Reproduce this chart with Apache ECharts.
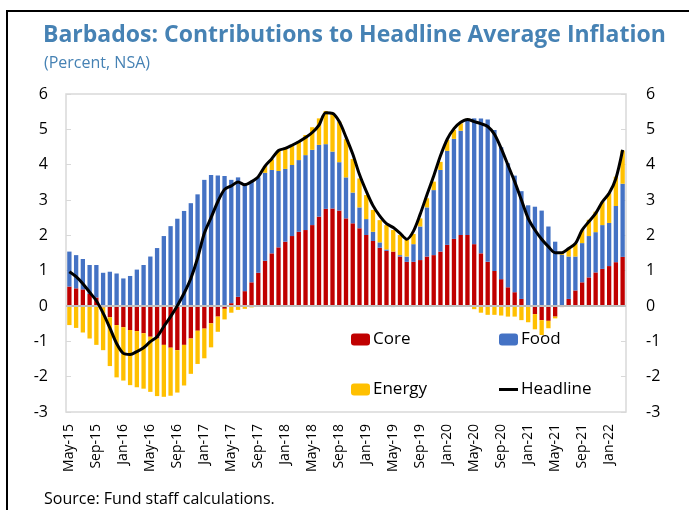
<!DOCTYPE html>
<html>
<head>
<meta charset="utf-8">
<script src="https://cdn.jsdelivr.net/npm/echarts@6/dist/echarts.min.js"></script>
<style>
  html, body { margin: 0; padding: 0; background: #fff; }
  #chart { width: 689px; height: 510px; }
</style>
</head>
<body>
<div id="chart"></div>
<script>
const months = [
  "May-15","Jun-15","Jul-15","Aug-15","Sep-15","Oct-15","Nov-15","Dec-15",
  "Jan-16","Feb-16","Mar-16","Apr-16","May-16","Jun-16","Jul-16","Aug-16","Sep-16","Oct-16","Nov-16","Dec-16",
  "Jan-17","Feb-17","Mar-17","Apr-17","May-17","Jun-17","Jul-17","Aug-17","Sep-17","Oct-17","Nov-17","Dec-17",
  "Jan-18","Feb-18","Mar-18","Apr-18","May-18","Jun-18","Jul-18","Aug-18","Sep-18","Oct-18","Nov-18","Dec-18",
  "Jan-19","Feb-19","Mar-19","Apr-19","May-19","Jun-19","Jul-19","Aug-19","Sep-19","Oct-19","Nov-19","Dec-19",
  "Jan-20","Feb-20","Mar-20","Apr-20","May-20","Jun-20","Jul-20","Aug-20","Sep-20","Oct-20","Nov-20","Dec-20",
  "Jan-21","Feb-21","Mar-21","Apr-21","May-21","Jun-21","Jul-21","Aug-21","Sep-21","Oct-21","Nov-21","Dec-21",
  "Jan-22","Feb-22","Mar-22"
];

// contributions, percentage points
const core = [
  0.55,0.50,0.47,0.34,0.24,-0.04,-0.32,-0.54,-0.60,-0.68,
  -0.71,-0.77,-0.87,-0.92,-1.10,-1.18,-1.25,-1.10,-0.92,-0.70,
  -0.64,-0.49,-0.30,-0.08,0.08,0.26,0.42,0.67,0.94,1.28,
  1.49,1.66,1.82,1.98,2.10,2.15,2.29,2.53,2.75,2.76,
  2.70,2.48,2.34,2.20,2.01,1.84,1.65,1.56,1.54,1.40,
  1.25,1.25,1.30,1.40,1.44,1.54,1.73,1.90,2.01,2.01,
  1.75,1.49,1.25,0.99,0.76,0.53,0.39,0.20,0.02,-0.23,
  -0.40,-0.42,-0.30,-0.03,0.20,0.44,0.67,0.81,0.95,1.05,
  1.13,1.24,1.39
];
const food = [
  0.99,0.94,0.86,0.82,0.92,0.94,0.97,0.92,0.78,0.85,
  1.03,1.16,1.40,1.64,1.98,2.26,2.47,2.69,2.91,3.16,
  3.57,3.71,3.69,3.68,3.49,3.38,3.05,2.85,2.70,2.49,
  2.36,2.16,2.06,2.01,2.03,2.12,2.13,2.03,1.83,1.61,
  1.37,1.16,0.87,0.59,0.45,0.26,0.15,0.04,-0.03,0.04,
  0.15,0.50,0.95,1.39,1.84,2.31,2.66,2.83,2.95,3.27,
  3.56,3.82,4.03,3.99,3.73,3.51,3.30,3.05,2.83,2.81,
  2.70,2.25,1.82,1.45,1.20,0.96,1.11,1.17,1.14,1.24,
  1.22,1.59,2.07
];
const energy = [
  -0.54,-0.62,-0.75,-0.92,-1.10,-1.21,-1.38,-1.48,-1.51,-1.56,
  -1.59,-1.57,-1.56,-1.63,-1.47,-1.36,-1.20,-1.15,-1.00,-0.94,
  -0.84,-0.68,-0.43,-0.30,-0.19,-0.11,-0.08,-0.04,-0.02,0.19,
  0.30,0.58,0.58,0.56,0.54,0.57,0.64,0.75,0.94,1.10,
  1.15,1.08,0.95,0.82,0.68,0.62,0.63,0.69,0.61,0.57,
  0.47,0.29,0.23,0.26,0.24,0.23,0.31,0.25,0.21,0.02,
  -0.09,-0.19,-0.25,-0.25,-0.27,-0.30,-0.30,-0.40,-0.46,-0.43,
  -0.42,-0.21,-0.05,0.05,0.22,0.36,0.37,0.46,0.58,0.66,
  0.84,0.83,0.94
];
const headline = [
  0.97,0.83,0.63,0.39,0.15,-0.20,-0.62,-1.06,-1.34,-1.37,
  -1.29,-1.18,-1.01,-0.87,-0.58,-0.30,0.01,0.36,0.78,1.35,
  2.06,2.50,2.95,3.30,3.40,3.51,3.43,3.52,3.66,3.96,
  4.17,4.40,4.46,4.55,4.65,4.77,4.91,5.12,5.47,5.45,
  5.22,4.78,4.30,3.72,3.25,2.84,2.55,2.33,2.22,2.06,
  1.89,2.12,2.60,3.15,3.68,4.25,4.72,5.02,5.20,5.28,
  5.22,5.16,5.08,4.86,4.46,3.99,3.52,3.00,2.48,2.15,
  1.89,1.68,1.51,1.51,1.63,1.77,2.15,2.39,2.62,2.95,
  3.19,3.61,4.42
];

const FONT = "Open Sans";
const BLUE_TITLE = "#4682b4";

const chart = echarts.init(document.getElementById("chart"), null, { renderer: "canvas" });

const legendBase = (name, left, top, icon) => ({
  data: [icon ? { name: name, icon: icon } : name],
  left: left,
  top: top,
  padding: 0,
  itemWidth: 19,
  itemHeight: name === "Headline" ? 3 : 12,
  itemGap: 0,
  selectedMode: false,
  textStyle: { fontFamily: FONT, fontSize: 17, color: "#000", padding: [0, 0, 0, -2] }
});

const option = {
  animation: false,
  backgroundColor: "#fff",
  title: [
    {
      text: "Barbados: Contributions to Headline Average Inflation",
      left: 38, top: 19,
      textStyle: { fontFamily: FONT, fontSize: 23, fontWeight: "bold", color: BLUE_TITLE }
    },
    {
      text: "(Percent, NSA)",
      left: 39, top: 50,
      textStyle: { fontFamily: FONT, fontSize: 16, fontWeight: "normal", color: BLUE_TITLE }
    }
  ],
  legend: [
    legendBase("Core", 351, 331),
    legendBase("Food", 499, 331),
    legendBase("Energy", 351, 381),
    legendBase("Headline", 499, 381, "rect")
  ],
  grid: {
    left: 66, right: 63, top: 94, bottom: 98,
    show: true, borderColor: "#d9d9d9", borderWidth: 1.5
  },
  xAxis: {
    type: "category",
    data: months,
    axisLine: { show: false },
    axisTick: { show: false },
    axisLabel: {
      interval: 3, rotate: 90, margin: 12,
      fontFamily: FONT, fontSize: 14, color: "#000"
    }
  },
  yAxis: [
    {
      type: "value", min: -3, max: 6, interval: 1,
      axisLine: { show: false },
      axisTick: { show: true, inside: true, length: 5, lineStyle: { color: "#d9d9d9" } },
      splitLine: { show: false },
      axisLabel: { margin: 18, fontFamily: FONT, fontSize: 16, color: "#000" }
    },
    {
      type: "value", min: -3, max: 6, interval: 1, position: "right",
      axisLine: { show: false },
      axisTick: { show: true, inside: true, length: 5, lineStyle: { color: "#d9d9d9" } },
      splitLine: { show: false },
      axisLabel: { margin: 20, fontFamily: FONT, fontSize: 16, color: "#000" }
    }
  ],
  series: [
    {
      name: "Core", type: "bar", stack: "c", data: core,
      barCategoryGap: "36%",
      itemStyle: { color: "#c00000" },
      markLine: {
        silent: true, symbol: "none", label: { show: false },
        lineStyle: { color: "#bfbfbf", width: 2, type: "solid" },
        data: [{ yAxis: 0 }]
      }
    },
    { name: "Food", type: "bar", stack: "c", data: food, itemStyle: { color: "#4472c4" } },
    { name: "Energy", type: "bar", stack: "c", data: energy, itemStyle: { color: "#ffc000" } },
    {
      name: "Headline", type: "line", data: headline,
      symbol: "none", smooth: 0.3, z: 5,
      itemStyle: { color: "#000" },
      lineStyle: { color: "#000", width: 3 }
    }
  ],
  graphic: [
    {
      type: "rect", silent: true,
      shape: { x: 7, y: 11, width: 700, height: 520 },
      style: { fill: "none", stroke: "#000", lineWidth: 2 }
    },
    {
      type: "text", left: 44, top: 491,
      style: { text: "Source: Fund staff calculations.", font: "16px 'Open Sans'", fill: "#000" }
    }
  ]
};

chart.setOption(option);
</script>
</body>
</html>
